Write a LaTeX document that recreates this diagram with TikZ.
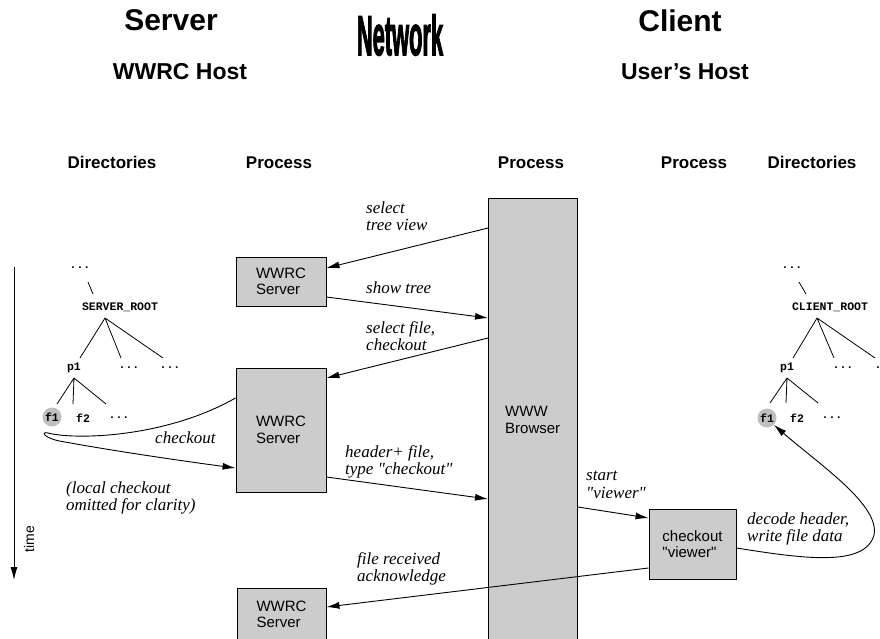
\documentclass[tikz,border=0pt]{standalone}
\usepackage{fontspec}
\setmainfont{Liberation Serif}
\setsansfont{Liberation Sans}
\setmonofont{Liberation Mono}
\newfontfamily\netfont[FakeBold=3]{Liberation Sans}
\usetikzlibrary{arrows.meta}
\definecolor{boxgray}{gray}{0.8}
\definecolor{dotgray}{gray}{0.75}
\newcommand{\qq}[1]{\textquotedbl#1\textquotedbl}

\begin{document}
\begin{tikzpicture}[x=1pt,y=-1pt,
  box/.style={draw=black, fill=boxgray, line width=0.9pt, inner sep=0pt},
  proc/.style={font=\sffamily\fontsize{15}{16.5}\selectfont, align=left},
  lbl/.style={font=\itshape\fontsize{17}{17.5}\selectfont, align=left, anchor=north west, inner sep=0pt},
  tree/.style={font=\ttfamily\bfseries\fontsize{11.5}{12}\selectfont, inner sep=0pt},
  head/.style={font=\sffamily\bfseries\fontsize{17}{19}\selectfont, inner sep=0pt, anchor=base},
  title/.style={font=\sffamily\bfseries\fontsize{30}{32}\selectfont, inner sep=0pt},
  subtitle/.style={font=\sffamily\bfseries\fontsize{23}{25}\selectfont, inner sep=0pt},
  msg/.style={-{Latex[length=13pt,width=7pt]}, line width=0.9pt},
  branch/.style={line width=0.8pt},
  filedot/.style={circle, fill=dotgray, minimum size=19pt, inner sep=0pt, font=\ttfamily\bfseries\fontsize{11.5}{12}\selectfont}
]
\useasboundingbox (0,0) rectangle (880,638);

% titles
\node[title] (tserver) at (171,20) {Server};
\node[subtitle] (thostS) at (180,72) {WWRC Host};
\node[title] (tclient) at (680,21) {Client};
\node[subtitle] (thostC) at (685,72) {User's Host};
\node[inner sep=0pt, font=\netfont\bfseries\fontsize{56}{56}\selectfont] (tnet) at (400,35) {\scalebox{0.39}[1]{Network}};

% column headers
\node[head] (hdirS) at (112,168) {Directories};
\node[head] (hprocS) at (279,168) {Process};
\node[head] (hprocB) at (531,168) {Process};
\node[head] (hprocV) at (694,168) {Process};
\node[head] (hdirC) at (812,168) {Directories};

% time axis
\coordinate (t0) at (14,267);
\coordinate (t1) at (14,580);
\draw[-{Latex[length=13pt,width=7pt]}, line width=0.9pt] (t0) -- (t1);
\node[font=\sffamily\fontsize{14}{16}\selectfont, rotate=90, inner sep=0pt] (ttime) at (29,539) {time};

% server directory tree
\node[tree] (sdots) at (80,268) {...};
\node[tree] (sroot) at (120,307) {SERVER\_ROOT};
\node[tree] (sp1) at (74,368) {p1};
\node[tree] (sd1) at (129,368) {...};
\node[tree] (sd2) at (170,368) {...};
\node[filedot] (sf1) at (52,417) {f1};
\node[tree] (sf2) at (83,418) {f2};
\node[tree] (sf3) at (119,418) {...};
\coordinate (sa) at (88,282);
\coordinate (sb) at (93,294);
\coordinate (sr) at (105,318);
\coordinate (sr1) at (80,358);
\coordinate (sr2) at (121,358);
\coordinate (sr3) at (163,358);
\coordinate (sp) at (74,378);
\coordinate (sp1a) at (57,404);
\coordinate (sp1b) at (73,404);
\coordinate (sp1c) at (106,404);
\draw[branch] (sa) -- (sb);
\draw[branch] (sr) -- (sr1) (sr) -- (sr2) (sr) -- (sr3);
\draw[branch] (sp) -- (sp1a) (sp) -- (sp1b) (sp) -- (sp1c);

% client directory tree
\node[tree] (cdots) at (792,268) {...};
\node[tree] (croot) at (830,307) {CLIENT\_ROOT};
\node[tree] (cp1) at (787,368) {p1};
\node[tree] (cd1) at (843,368) {...};
\node[tree] (cd2) at (885,368) {...};
\node[filedot] (cf1) at (767,418) {f1};
\node[tree] (cf2) at (797,418) {f2};
\node[tree] (cf3) at (832,418) {...};
\coordinate (ca) at (799,282);
\coordinate (cb) at (806,294);
\coordinate (cr) at (817,318);
\coordinate (cr1) at (793,358);
\coordinate (cr2) at (834,358);
\coordinate (cr3) at (875,358);
\coordinate (cp) at (787,378);
\coordinate (cp1a) at (770,403);
\coordinate (cp1b) at (786,403);
\coordinate (cp1c) at (818,403);
\draw[branch] (ca) -- (cb);
\draw[branch] (cr) -- (cr1) (cr) -- (cr2) (cr) -- (cr3);
\draw[branch] (cp) -- (cp1a) (cp) -- (cp1b) (cp) -- (cp1c);

% processes
\node[box, proc, minimum width=90pt, minimum height=49pt] (srv1) at (281,281.5) {WWRC\\Server};
\node[box, proc, minimum width=90pt, minimum height=124pt] (srv2) at (281,430) {WWRC\\Server};
\node[box, proc, minimum width=89pt, minimum height=53pt] (srv3) at (281.5,614.5) {WWRC\\Server};
\node[box, minimum width=89pt, minimum height=447pt, anchor=north west] (browser) at (488,198) {};
\node[proc, anchor=north west, inner sep=0pt] (browsertxt) at (505,406) {WWW\\Browser};
\node[box, proc, minimum width=87pt, minimum height=70pt] (viewer) at (692.5,544) {checkout\\\qq{viewer}};

% messages
\draw[msg] (browser.west |- 0,228) -- (srv1.east |- 0,268);
\draw[msg] (srv1.east |- 0,297) -- (browser.west |- 0,318);
\draw[msg] (browser.west |- 0,338) -- (srv2.east |- 0,378);
\draw[msg] (srv2.east |- 0,477) -- (browser.west |- 0,499);
\draw[msg] (browser.east |- 0,507) -- (viewer.west |- 0,518);
\draw[msg] (viewer.west |- 0,568) -- (srv3.east |- 0,607);

% local checkout loop on the server side
\draw[msg] (srv2.west |- 0,398) .. controls (165,438) and (75,440) .. (48,433)
  .. controls (40,431) and (44,439) .. (65,442)
  .. controls (120,452) and (190,462) .. (srv2.west |- 0,468);

% decoding on the client side
\draw[msg] (viewer.east |- 0,548) .. controls (800,558) and (865,568) .. (874,535)
  .. controls (880,505) and (820,465) .. (cf1.-45);

% message labels
\node[lbl] (l1) at (366,201) {select\\tree view};
\node[lbl] (l2) at (366,281) {show tree};
\node[lbl] (l3) at (366,321) {select file,\\checkout};
\node[lbl] (l4) at (345,445) {header+ file,\\type \qq{checkout}};
\node[lbl] (l5) at (357,552) {file received\\acknowledge};
\node[lbl] (l6) at (155,431) {checkout};
\node[lbl] (l7) at (66,481) {(local checkout\\omitted for clarity)};
\node[lbl] (l8) at (586,471) {start\\\qq{viewer}};
\node[lbl] (l9) at (747,512) {decode header,\\write file data};
\end{tikzpicture}
\end{document}
